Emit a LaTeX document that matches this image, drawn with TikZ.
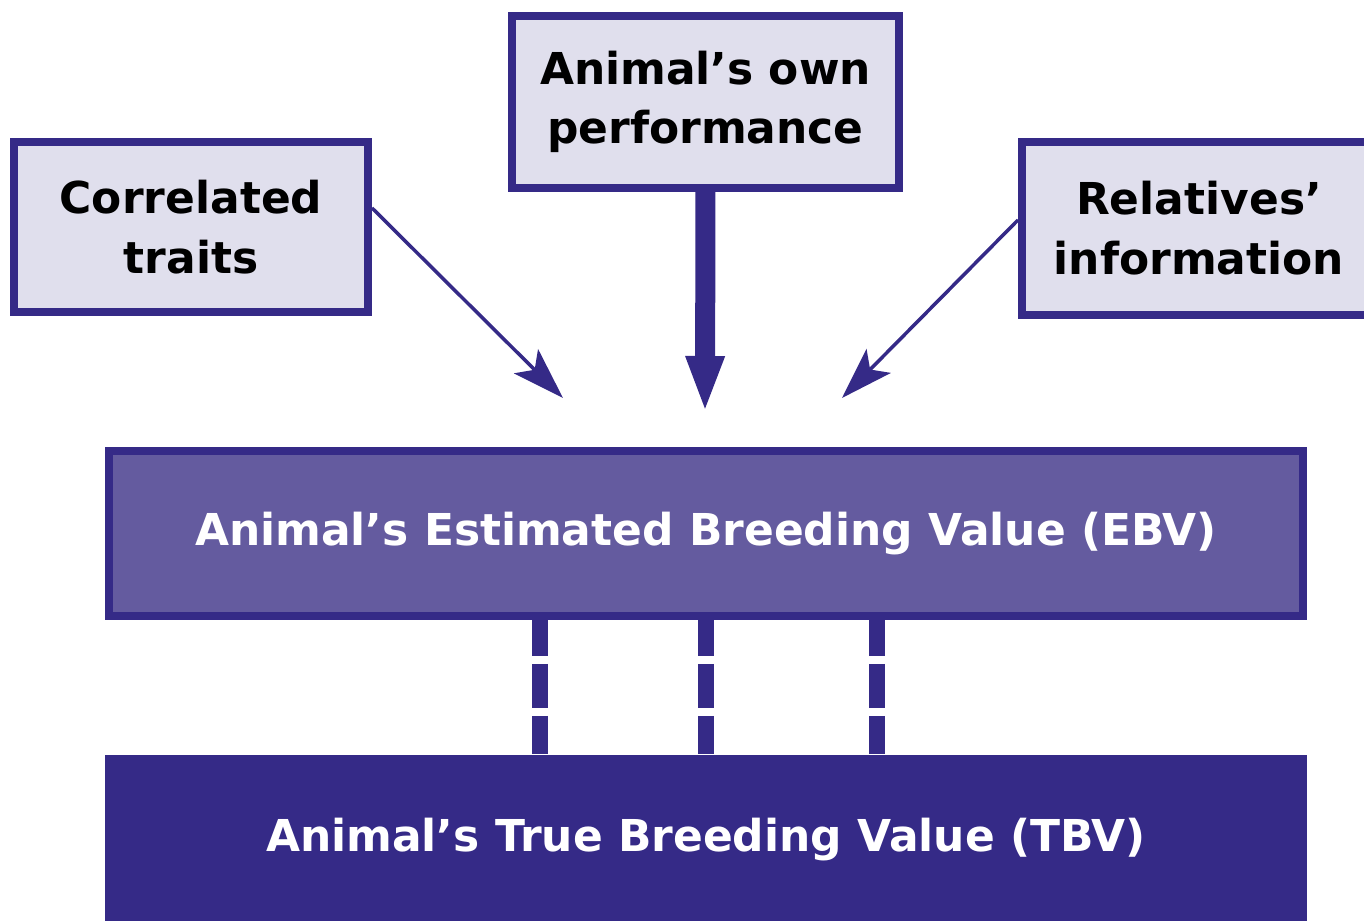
\documentclass[tikz,border=0pt]{standalone}
\usepackage{fontspec}
\setmainfont{DejaVu Sans}
\definecolor{BVnavy}{HTML}{352A87}
\definecolor{BVlilac}{HTML}{E0DFED}
\definecolor{BVpurple}{HTML}{645B9F}
\usetikzlibrary{arrows.meta, positioning}

\begin{document}
\begin{tikzpicture}[
      source/.style={draw=BVnavy, line width=0.08cm, fill=BVlilac, align=center,
         font=\bfseries\fontsize{12.5}{17}\selectfont},
      value/.style={minimum width=11.94cm, minimum height=1.65cm, text=white,
         font=\bfseries\fontsize{12.5}{17}\selectfont},
      feed/.style={BVnavy, line width=0.035cm,
         -{Stealth[length=0.52cm, width=0.34cm, inset=0.12cm]}}
   ]
            \clip (0,0) rectangle (13.64,9.21);
            % Sources of information
            \node[source, minimum width=3.54cm, minimum height=1.70cm] (corr) at (1.91,6.94) {Correlated\\traits};
            \node[source, minimum width=3.87cm, minimum height=1.72cm] (own) at (7.055,8.19) {Animal’s own\\performance};
            \node[source, minimum width=3.54cm, minimum height=1.73cm] (rel) at (11.99,6.925) {Relatives’\\information};
            % Estimated and true breeding values
            \node[value, draw=BVnavy, line width=0.08cm, fill=BVpurple] (ebv) at (7.06,3.875)
               {Animal’s Estimated Breeding Value (EBV)};
            \node[value, fill=BVnavy, minimum width=12.02cm, minimum height=1.70cm] (tbv) at (7.06,0.81)
               {Animal’s True Breeding Value (TBV)};
            % Arrow tips above the EBV box
            \coordinate (tipL) at (5.63,5.23);
            \coordinate (tipM) at (7.05,5.08);
            \coordinate (tipR) at (8.42,5.23);
            \draw[feed] ([yshift=0.19cm]corr.east) -- (tipL);
            \draw[feed] ([yshift=0.085cm]rel.west) -- (tipR);
            \draw[BVnavy, line width=0.2cm, -{Triangle[length=0.57cm, width=0.35cm]}] (own.south) -- (tipM);
            % Dashed links EBV -- TBV
            \foreach \dx in {-1.66,0,1.705}
               \draw[BVnavy, line width=0.16cm, dash pattern=on 0.44cm off 0.08cm, dash phase=0.08cm]
                  ([xshift=\dx cm]ebv.south) -- ([xshift=\dx cm]tbv.north);
         \end{tikzpicture}
\end{document}
